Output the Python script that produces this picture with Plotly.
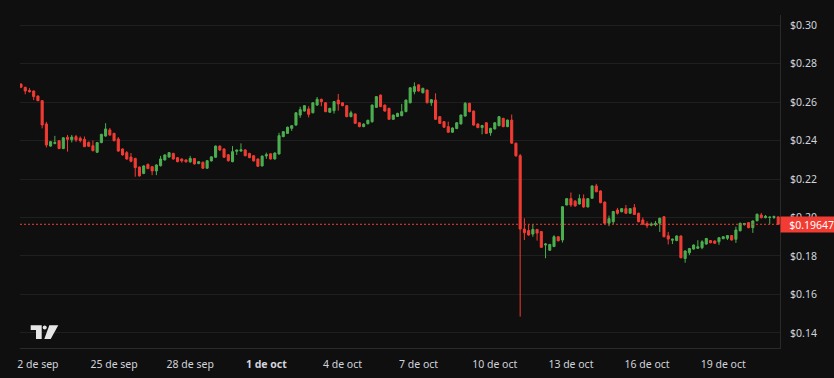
import pandas as pd
import plotly.graph_objects as go

# ---- data (4h candles) ----
start_time = "2024-09-21 08:00"
n_candles = 180

opens = [
    0.2693, 0.2676, 0.2660, 0.2657, 0.2631, 0.2607, 0.2486, 0.2371, 0.2385, 0.2399,
    0.2358, 0.2417, 0.2404, 0.2420, 0.2412, 0.2406, 0.2390, 0.2373, 0.2339, 0.2389,
    0.2423, 0.2455, 0.2437, 0.2408, 0.2356, 0.2337, 0.2314, 0.2307, 0.2262, 0.2229,
    0.2276, 0.2264, 0.2242, 0.2269, 0.2299, 0.2314, 0.2333, 0.2311, 0.2304, 0.2299,
    0.2289, 0.2306, 0.2280, 0.2287, 0.2256, 0.2294, 0.2313, 0.2371, 0.2356, 0.2326,
    0.2290, 0.2344, 0.2345, 0.2351, 0.2333, 0.2321, 0.2304, 0.2268, 0.2320, 0.2331,
    0.2304, 0.2330, 0.2420, 0.2437, 0.2463, 0.2480, 0.2532, 0.2553, 0.2564, 0.2544,
    0.2584, 0.2614, 0.2596, 0.2547, 0.2555, 0.2610, 0.2596, 0.2581, 0.2524, 0.2538,
    0.2492, 0.2472, 0.2487, 0.2498, 0.2572, 0.2636, 0.2584, 0.2567, 0.2510, 0.2525,
    0.2529, 0.2550, 0.2596, 0.2654, 0.2689, 0.2648, 0.2662, 0.2596, 0.2610, 0.2524,
    0.2498, 0.2472, 0.2443, 0.2462, 0.2486, 0.2527, 0.2593, 0.2553, 0.2486, 0.2467,
    0.2492, 0.2440, 0.2460, 0.2477, 0.2515, 0.2472, 0.2506, 0.2386, 0.2321, 0.1940,
    0.1932, 0.1914, 0.1938, 0.1927, 0.1857, 0.1830, 0.1849, 0.1900, 0.1883, 0.2065,
    0.2098, 0.2085, 0.2070, 0.2098, 0.2055, 0.2100, 0.2164, 0.2138, 0.2080, 0.1970,
    0.1978, 0.2039, 0.2030, 0.2046, 0.2022, 0.2051, 0.2022, 0.1987, 0.1968, 0.1960,
    0.1962, 0.1970, 0.2004, 0.1905, 0.1882, 0.1880, 0.1904, 0.1787, 0.1817, 0.1836,
    0.1840, 0.1843, 0.1862, 0.1880, 0.1878, 0.1874, 0.1890, 0.1892, 0.1906, 0.1887,
    0.1931, 0.1963, 0.1973, 0.1947, 0.1983, 0.2013, 0.1999, 0.2000, 0.2000, 0.2003,
]
highs = [
    0.2697, 0.2680, 0.2672, 0.2660, 0.2634, 0.2610, 0.2497, 0.2398, 0.2424, 0.2402,
    0.2417, 0.2429, 0.2429, 0.2429, 0.2421, 0.2421, 0.2395, 0.2400, 0.2392, 0.2435,
    0.2490, 0.2465, 0.2440, 0.2418, 0.2358, 0.2345, 0.2335, 0.2310, 0.2265, 0.2271,
    0.2280, 0.2268, 0.2276, 0.2320, 0.2328, 0.2340, 0.2336, 0.2314, 0.2307, 0.2302,
    0.2320, 0.2309, 0.2293, 0.2290, 0.2298, 0.2318, 0.2374, 0.2374, 0.2359, 0.2329,
    0.2371, 0.2352, 0.2385, 0.2354, 0.2336, 0.2324, 0.2307, 0.2322, 0.2337, 0.2334,
    0.2338, 0.2440, 0.2449, 0.2472, 0.2480, 0.2547, 0.2575, 0.2584, 0.2578, 0.2599,
    0.2626, 0.2617, 0.2599, 0.2570, 0.2605, 0.2642, 0.2599, 0.2584, 0.2555, 0.2541,
    0.2495, 0.2490, 0.2508, 0.2587, 0.2631, 0.2639, 0.2587, 0.2570, 0.2535, 0.2544,
    0.2590, 0.2613, 0.2677, 0.2702, 0.2692, 0.2674, 0.2665, 0.2615, 0.2645, 0.2527,
    0.2501, 0.2498, 0.2468, 0.2495, 0.2535, 0.2600, 0.2596, 0.2556, 0.2489, 0.2481,
    0.2495, 0.2466, 0.2495, 0.2527, 0.2518, 0.2509, 0.2535, 0.2389, 0.2330, 0.1996,
    0.1965, 0.1965, 0.1941, 0.1930, 0.1868, 0.1863, 0.1908, 0.1903, 0.2059, 0.2101,
    0.2130, 0.2090, 0.2120, 0.2120, 0.2101, 0.2167, 0.2175, 0.2141, 0.2083, 0.2010,
    0.2034, 0.2050, 0.2049, 0.2065, 0.2049, 0.2070, 0.2025, 0.2000, 0.1980, 0.1975,
    0.1982, 0.1999, 0.2007, 0.1925, 0.1890, 0.1907, 0.1907, 0.1829, 0.1842, 0.1860,
    0.1882, 0.1882, 0.1894, 0.1883, 0.1881, 0.1898, 0.1903, 0.1909, 0.1909, 0.1952,
    0.1973, 0.1972, 0.1976, 0.1985, 0.2020, 0.2024, 0.2013, 0.2005, 0.2010, 0.2006,
]
lows = [
    0.2672, 0.2640, 0.2650, 0.2610, 0.2604, 0.2463, 0.2364, 0.2368, 0.2380, 0.2355,
    0.2355, 0.2342, 0.2390, 0.2393, 0.2390, 0.2366, 0.2366, 0.2344, 0.2335, 0.2386,
    0.2420, 0.2424, 0.2396, 0.2342, 0.2322, 0.2300, 0.2287, 0.2212, 0.2213, 0.2225,
    0.2251, 0.2220, 0.2220, 0.2265, 0.2296, 0.2311, 0.2300, 0.2287, 0.2285, 0.2286,
    0.2284, 0.2275, 0.2277, 0.2253, 0.2253, 0.2291, 0.2310, 0.2345, 0.2310, 0.2290,
    0.2287, 0.2325, 0.2342, 0.2318, 0.2308, 0.2291, 0.2263, 0.2265, 0.2305, 0.2301,
    0.2301, 0.2327, 0.2417, 0.2434, 0.2450, 0.2477, 0.2518, 0.2550, 0.2520, 0.2541,
    0.2581, 0.2578, 0.2547, 0.2544, 0.2540, 0.2555, 0.2578, 0.2521, 0.2521, 0.2486,
    0.2469, 0.2469, 0.2484, 0.2492, 0.2569, 0.2573, 0.2550, 0.2507, 0.2507, 0.2522,
    0.2526, 0.2547, 0.2593, 0.2640, 0.2654, 0.2645, 0.2593, 0.2580, 0.2507, 0.2486,
    0.2466, 0.2440, 0.2440, 0.2459, 0.2483, 0.2524, 0.2547, 0.2477, 0.2464, 0.2432,
    0.2434, 0.2425, 0.2457, 0.2474, 0.2469, 0.2469, 0.2383, 0.2315, 0.1485, 0.1883,
    0.1905, 0.1900, 0.1880, 0.1842, 0.1788, 0.1827, 0.1846, 0.1876, 0.1870, 0.2062,
    0.2055, 0.2057, 0.2067, 0.2050, 0.2052, 0.2097, 0.2131, 0.2074, 0.1967, 0.1955,
    0.1965, 0.2015, 0.2027, 0.2019, 0.2019, 0.2013, 0.1975, 0.1962, 0.1945, 0.1955,
    0.1955, 0.1925, 0.1897, 0.1860, 0.1862, 0.1877, 0.1788, 0.1765, 0.1805, 0.1833,
    0.1837, 0.1835, 0.1859, 0.1866, 0.1863, 0.1858, 0.1887, 0.1883, 0.1880, 0.1868,
    0.1928, 0.1958, 0.1944, 0.1920, 0.1980, 0.1995, 0.1996, 0.1965, 0.1992, 0.1962,
]
closes = [
    0.2677, 0.2657, 0.2653, 0.2628, 0.2607, 0.2481, 0.2377, 0.2394, 0.2389, 0.2358,
    0.2414, 0.2406, 0.2418, 0.2403, 0.2400, 0.2368, 0.2370, 0.2347, 0.2389, 0.2432,
    0.2460, 0.2429, 0.2399, 0.2345, 0.2325, 0.2304, 0.2292, 0.2259, 0.2216, 0.2268,
    0.2254, 0.2242, 0.2273, 0.2304, 0.2325, 0.2337, 0.2304, 0.2290, 0.2294, 0.2289,
    0.2307, 0.2278, 0.2290, 0.2256, 0.2295, 0.2315, 0.2371, 0.2351, 0.2313, 0.2295,
    0.2342, 0.2350, 0.2352, 0.2321, 0.2311, 0.2294, 0.2266, 0.2319, 0.2326, 0.2304,
    0.2335, 0.2425, 0.2446, 0.2469, 0.2477, 0.2544, 0.2560, 0.2581, 0.2536, 0.2596,
    0.2614, 0.2602, 0.2550, 0.2567, 0.2602, 0.2590, 0.2581, 0.2524, 0.2544, 0.2489,
    0.2472, 0.2485, 0.2505, 0.2584, 0.2628, 0.2576, 0.2553, 0.2510, 0.2532, 0.2541,
    0.2550, 0.2610, 0.2674, 0.2680, 0.2657, 0.2671, 0.2596, 0.2612, 0.2510, 0.2489,
    0.2469, 0.2443, 0.2465, 0.2492, 0.2532, 0.2593, 0.2550, 0.2480, 0.2467, 0.2478,
    0.2437, 0.2463, 0.2492, 0.2524, 0.2472, 0.2506, 0.2386, 0.2321, 0.1940, 0.1921,
    0.1909, 0.1938, 0.1919, 0.1845, 0.1862, 0.1860, 0.1900, 0.1879, 0.2056, 0.2098,
    0.2065, 0.2060, 0.2098, 0.2055, 0.2098, 0.2164, 0.2134, 0.2077, 0.1970, 0.1994,
    0.2031, 0.2022, 0.2046, 0.2022, 0.2046, 0.2016, 0.1978, 0.1965, 0.1958, 0.1965,
    0.1970, 0.1996, 0.1900, 0.1888, 0.1887, 0.1904, 0.1791, 0.1826, 0.1839, 0.1857,
    0.1848, 0.1874, 0.1891, 0.1869, 0.1866, 0.1895, 0.1900, 0.1906, 0.1883, 0.1935,
    0.1970, 0.1968, 0.1947, 0.1982, 0.2017, 0.1999, 0.2006, 0.2002, 0.2005, 0.19647,
]

last_price = 0.19647
last_price_label = "$0.19647"

tick_dates = ["2024-09-22", "2024-09-25", "2024-09-28", "2024-10-01", "2024-10-04",
              "2024-10-07", "2024-10-10", "2024-10-13", "2024-10-16", "2024-10-19"]
tick_labels = ["2 de sep", "25 de sep", "28 de sep", "<b>1 de oct</b>", "4 de oct",
               "7 de oct", "10 de oct", "13 de oct", "16 de oct", "19 de oct"]
price_ticks = [0.14, 0.16, 0.18, 0.20, 0.22, 0.24, 0.26, 0.28, 0.30]
price_labels = ["$0.14", "$0.16", "$0.18", "$0.20", "$0.22", "$0.24", "$0.26", "$0.28", "$0.30"]

times = pd.date_range(start_time, periods=n_candles, freq="4h")

UP = "#4caf50"
DOWN = "#f23c33"
BG = "#0f0f0f"
FONT = "Noto Sans"
FS = 10.5

fig = go.Figure(go.Candlestick(
    x=times, open=opens, high=highs, low=lows, close=closes,
    increasing=dict(line=dict(color=UP, width=1), fillcolor=UP),
    decreasing=dict(line=dict(color=DOWN, width=1), fillcolor=DOWN),
    whiskerwidth=0, showlegend=False, hoverinfo="skip",
))

# plot area in pixels: x 20..780, y 15..348
L, R, T, B = 20, 54, 15, 30
W, H = 834, 378
pw, ph = W - L - R, H - T - B


def px(x):
    return (x - L) / pw


def py(y):
    return (H - B - y) / ph


def poly(points):
    return "M " + " L ".join(f"{px(a):.5f},{py(b):.5f}" for a, b in points) + " Z"


shapes = [
    dict(type="line", xref="paper", yref="y", x0=0, x1=1, y0=last_price, y1=last_price,
         line=dict(color=DOWN, width=1, dash="2px,2px"), layer="above"),
    # TradingView logo
    dict(type="path", xref="paper", yref="paper",
         path=poly([(30.7, 325.3), (41.7, 325.3), (41.7, 339.0), (36.0, 339.0), (36.0, 330.0), (30.7, 330.0)]),
         fillcolor="#e6e6e6", line=dict(width=0)),
    dict(type="circle", xref="paper", yref="paper",
         x0=px(42.7), x1=px(46.7), y0=py(329.5), y1=py(325.5),
         fillcolor="#e6e6e6", line=dict(width=0)),
    dict(type="path", xref="paper", yref="paper",
         path=poly([(49.3, 325.3), (58.3, 325.3), (50.7, 339.0), (44.3, 339.0)]),
         fillcolor="#e6e6e6", line=dict(width=0)),
]

fig.update_layout(
    width=W, height=H,
    margin=dict(l=L, r=R, t=T, b=B, pad=0),
    paper_bgcolor=BG, plot_bgcolor=BG,
    font=dict(family=FONT, size=FS, color="#d1d4dc"),
    shapes=shapes,
    xaxis=dict(
        type="date",
        range=["2024-09-21 07:03", "2024-10-21 05:42"],
        tickvals=tick_dates, ticktext=tick_labels,
        showgrid=False, zeroline=False, automargin=False,
        showline=True, linecolor="#2a2a2a", linewidth=1,
        ticks="", ticklabelstandoff=6,
        tickfont=dict(family=FONT, size=FS, color="#d1d4dc"),
        rangeslider=dict(visible=False), fixedrange=True,
    ),
    yaxis=dict(
        side="right",
        range=[0.1322, 0.3052],
        tickvals=price_ticks, ticktext=price_labels,
        showgrid=True, gridcolor="#1f1f1f", gridwidth=1, zeroline=False, automargin=False,
        showline=True, linecolor="#2a2a2a", linewidth=1,
        ticks="", ticklabelstandoff=7,
        tickfont=dict(family=FONT, size=FS, color="#d1d4dc"),
        fixedrange=True,
    ),
    annotations=[dict(
        xref="paper", yref="y", x=1, y=last_price, xanchor="left", yanchor="middle",
        text=last_price_label, showarrow=False, align="right",
        bgcolor=DOWN, font=dict(family=FONT, size=FS, color="#ffffff"),
        width=52, height=13, borderpad=1,
    )],
)

fig.write_html(
    "out.html",
    config={"displayModeBar": False, "staticPlot": True},
    post_script="document.body.style.margin='0';document.body.style.background='#0f0f0f';",
)
